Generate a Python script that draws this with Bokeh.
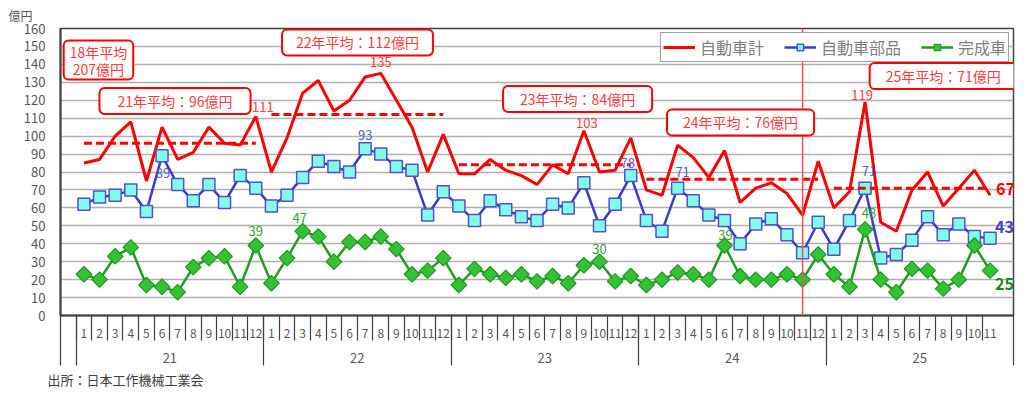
from bokeh.plotting import figure
from bokeh.models import (Range1d, FixedTicker, LinearAxis, Span, Label, Legend,
                          LegendItem, Title, ColumnDataSource)
from bokeh.core.properties import value
from bokeh.embed import file_html
from bokeh.resources import INLINE

FONT = "Noto Sans CJK JP"

# ---------------- data ----------------
years = ["21", "22", "23", "24", "25"]
months_per_year = [12, 12, 12, 12, 11]

total = [85, 87, 100, 108, 75, 105, 87, 91, 105, 96, 95, 111,
         80, 99, 124, 131, 114, 120, 133, 135, 120, 105, 80, 101,
         79, 79, 87, 81, 78, 73, 84, 79, 103, 80, 81, 99,
         70, 67, 95, 88, 77, 92, 63, 71, 74, 68, 56, 86,
         60, 69, 119, 52, 47, 70, 80, 61, 71, 81, 67]

parts = [62, 66, 67, 70, 58, 89, 73, 64, 73, 63, 78, 71,
         61, 67, 77, 86, 83, 80, 93, 90, 83, 81, 56, 69,
         61, 53, 64, 59, 55, 53, 62, 60, 74, 50, 62, 78,
         53, 47, 71, 64, 56, 53, 40, 51, 54, 45, 35, 52,
         37, 53, 71, 32, 34, 42, 55, 45, 51, 44, 43]

vehicles = [23, 20, 33, 38, 17, 16, 13, 27, 32, 33, 16, 39,
            18, 32, 47, 44, 30, 41, 41, 44, 37, 23, 25, 32,
            17, 26, 23, 21, 23, 19, 22, 18, 28, 30, 19, 22,
            17, 20, 24, 23, 20, 39, 22, 20, 20, 23, 20, 34,
            23, 16, 48, 20, 13, 26, 25, 15, 20, 39, 25]

avg_years = ["21", "22", "23", "24", "25"]
avg_values = [96, 112, 84, 76, 71]
old_avg_year = "18"
old_avg_value = 207

series_names = ["自動車計", "自動車部品", "完成車"]
y_ticks = list(range(0, 161, 10))
source_text = "出所：日本工作機械工業会"
unit_text = "億円"

# labelled points (indices into the series)
total_label_idx = [11, 19, 32, 50]
parts_label_idx = [5, 18, 35, 38, 50]
veh_label_idx = [11, 14, 33, 41, 50]
marker_line_month = ("24", 11)

# ---------------- derived positions ----------------
x = []
month_labels = {}
year_first, year_last = [], []
k = 1
for yr, n in zip(years, months_per_year):
    year_first.append(k)
    for m in range(1, n + 1):
        x.append(k)
        month_labels[k] = str(m)
        k += 1
    year_last.append(k - 1)

n_slots = 12 * len(years) + 1
month_bounds = [i + 0.5 for i in range(0, len(x))]
year_bounds = [-0.5] + [0.5 + 12 * i for i in range(len(years) + 1)]
year_centers = {6.5 + 12 * i: yr for i, yr in enumerate(years)}

vline_x = year_first[years.index(marker_line_month[0])] + marker_line_month[1] - 1

GRAY = "#404040"
TXT = "#595959"
RED = "#ff0000"
BLUE = "#3c3cc8"
GREEN = "#1f9e1f"

p = figure(width=1020, height=392, x_range=Range1d(-0.5, n_slots - 0.5),
           y_range=Range1d(0, 160), output_backend="svg", toolbar_location=None,
           x_axis_type=None, min_border_left=60, min_border_right=7,
           min_border_top=0, min_border_bottom=77)
p.background_fill_color = "white"
p.border_fill_color = "white"
p.outline_line_color = GRAY
p.outline_line_width = 1.5

# title (unit)
p.title.text = unit_text
p.title.align = "left"
p.title.offset = -52
p.title.standoff = 9
p.title.text_font = FONT
p.title.text_font_size = "12px"
p.title.text_font_style = "normal"
p.title.text_color = TXT

# y axis
p.yaxis.ticker = FixedTicker(ticks=y_ticks)
p.yaxis.major_tick_out = 0
p.yaxis.major_tick_in = 0
p.yaxis.minor_tick_line_color = None
p.yaxis.axis_line_color = GRAY
p.yaxis.axis_line_width = 2
p.yaxis.major_label_text_font = FONT
p.yaxis.major_label_text_font_size = "13px"
p.yaxis.major_label_text_color = TXT
p.yaxis.major_label_standoff = 15
p.ygrid.grid_line_color = "#b0b0b0"
p.ygrid.grid_line_width = 1.5

# x axis: month labels
ax_m = LinearAxis(ticker=FixedTicker(ticks=x),
                  major_label_overrides=month_labels,
                  major_tick_out=0, major_tick_in=0,
                  minor_tick_line_color=None,
                  axis_line_color=GRAY, axis_line_width=2,
                  major_label_standoff=13,
                  major_label_text_font=FONT, major_label_text_font_size="12px",
                  major_label_text_color=TXT)
p.add_layout(ax_m, "below")

# x axis: year labels + month separators
ax_y = LinearAxis(ticker=FixedTicker(ticks=list(year_centers.keys()), minor_ticks=month_bounds),
                  major_label_overrides=year_centers,
                  major_tick_out=0, major_tick_in=0,
                  minor_tick_out=0, minor_tick_in=25,
                  minor_tick_line_color=GRAY, minor_tick_line_width=1.2,
                  axis_line_color=None,
                  major_label_standoff=12,
                  major_label_text_font=FONT, major_label_text_font_size="13px",
                  major_label_text_color=TXT)
p.add_layout(ax_y, "below")

# x axis: year separators only
ax_s = LinearAxis(ticker=FixedTicker(ticks=[], minor_ticks=year_bounds),
                  major_tick_out=0, major_tick_in=0,
                  minor_tick_out=0, minor_tick_in=50,
                  minor_tick_line_color=GRAY, minor_tick_line_width=1.2,
                  axis_line_color=None, major_label_standoff=0)
p.add_layout(ax_s, "below")

src_title = Title(text=source_text, align="left", offset=-13, standoff=4,
                  text_font=FONT, text_font_size="13px", text_font_style="normal",
                  text_color=GRAY)
p.add_layout(src_title, "below")

# series
r_tot = p.line(x, total, line_color=RED, line_width=3)
r_par_l = p.line(x, parts, line_color=BLUE, line_width=2.5)
r_par_m = p.scatter(x, parts, marker="square", size=12, fill_color="#80ffe6",
                    line_color="#5050d8", line_width=1.5)
r_veh_l = p.line(x, vehicles, line_color=GREEN, line_width=2.5)
r_veh_m = p.scatter(x, vehicles, marker="square", angle=0.785398, size=11,
                    fill_color="#33c233", line_color="#229922", line_width=1.2)

# average dashed lines
p.segment(x0=year_first, y0=avg_values, x1=year_last, y1=avg_values,
          line_color=RED, line_width=3, line_dash="8 4")

# vertical marker line
p.add_layout(Span(location=vline_x, dimension="height", line_color="#ff4d4d",
                  line_width=1.5))

# point labels
def labels(series, idx, color, xoff, yoff, size="13px", style="normal", align="center"):
    src = ColumnDataSource(dict(x=[x[i] for i in idx], y=[series[i] for i in idx],
                                t=[str(series[i]) for i in idx],
                                xo=xoff, yo=yoff))
    p.text(x="x", y="y", text="t", x_offset="xo", y_offset="yo", source=src,
           text_color=color, text_font=value(FONT), text_font_size=size,
           text_font_style=style, text_align=align, text_baseline="middle")

labels(total, total_label_idx, "#ff4040", [7, 0, 3, -3], [-9, -11, -8, -7])
labels(parts, parts_label_idx, "#5a5ae0", [1, 0, -3, 5, 4], [17, -14, -13, -16, -17])
labels(vehicles, veh_label_idx, "#3aa03a", [0, -3, 0, 1, 4], [-15, -13, -13, -11, -16])

end = len(x) - 1
labels(total, [end], RED, [6], [-6], "16px", "bold", "left")
labels(parts, [end], "#4040cc", [5], [-11], "16px", "bold", "left")
labels(vehicles, [end], "#1a8a1a", [5], [13], "16px", "bold", "left")

# average boxes
def box(xc, yc, text, pad, lh=1.2):
    p.add_layout(Label(x=xc, y=yc, text=text, text_align="center", text_baseline="middle",
                       text_font=FONT, text_font_size="14px", text_color="#ff3b3b",
                       text_line_height=lh,
                       background_fill_color="white", border_line_color=RED,
                       border_line_width=2, border_radius=5, padding=pad))

box(1.93, 142.4, f"{old_avg_year}年平均\n{old_avg_value}億円", (6, 1), 0.85)
box_pos = [(6.83, 119.6, 18), (18.51, 152.2, 14), (32.6, 120.7, 17), (43.03, 107.6, 16), (56.0, 133.5, 16)]
for (bx, by, pad), yr, v in zip(box_pos, avg_years, avg_values):
    box(bx, by, f"{yr}年平均：{v}億円", (pad, 3))

# legend
legend = Legend(items=[LegendItem(label=series_names[0], renderers=[r_tot]),
                       LegendItem(label=series_names[1], renderers=[r_par_l, r_par_m]),
                       LegendItem(label=series_names[2], renderers=[r_veh_l, r_veh_m])],
                orientation="horizontal", location="top_right",
                border_line_color=GRAY, border_line_width=1.5,
                background_fill_color="white", background_fill_alpha=1,
                label_text_font=FONT, label_text_font_size="16px", label_text_color="#7f7f7f",
                glyph_width=32, glyph_height=16, label_standoff=5, spacing=20,
                padding=2, margin=4, label_height=16)
p.add_layout(legend)

open("out.html", "w").write(file_html(p, INLINE))
